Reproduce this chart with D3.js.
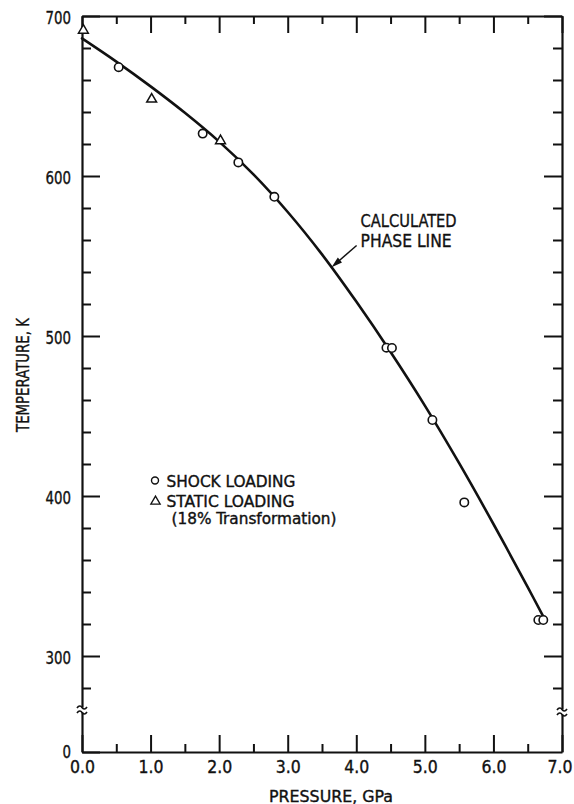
<!DOCTYPE html>
<html>
<head>
<meta charset="utf-8">
<script src="https://cdn.jsdelivr.net/npm/d3@7"></script>
<style>
  html, body { margin: 0; padding: 0; background: #fff; }
  svg { display: block; }
  text { font-family: "Liberation Sans Narrow", "DejaVu Sans Condensed", "Liberation Sans", Arial, sans-serif; fill: #111; stroke: #111; stroke-width: 0.35px; }
</style>
</head>
<body>
<svg id="chart" width="574" height="804"></svg>
<script>
// Axis ticks and labels
const pressureMajor = [0, 1, 2, 3, 4, 5, 6, 7];
const pressureMinor = [0.5, 1.5, 2.5, 3.5, 4.5, 5.5, 6.5];
const pressureLabels = ["0.0", "1.0", "2.0", "3.0", "4.0", "5.0", "6.0", "7.0"];
const tempMajor = [300, 400, 500, 600, 700];
const tempMinor = [280, 320, 340, 360, 380, 420, 440, 460, 480, 520, 540, 560, 580, 620, 640, 660, 680];
const tempLabelValues = [0, 300, 400, 500, 600, 700];

// Calculated phase line (pressure GPa, temperature K)
const phaseP = [0, 0.5, 1.0, 1.5, 2.0, 2.5, 3.0, 3.5, 4.0, 4.5, 5.0, 5.5, 6.0, 6.5, 6.73];
const phaseT = [686, 671.5, 656, 639.5, 621.5, 601, 577.5, 551, 521.5, 490, 456.5, 420.5, 382.5, 343, 324.5];

// Shock loading measurements
const shockP = [0.535, 1.76, 2.28, 2.805, 4.44, 4.52, 5.11, 5.575, 6.655, 6.727];
const shockT = [668, 626.5, 608.5, 587, 492.7, 492.5, 447.5, 396, 322.5, 322.5];

// Static loading measurements (18% transformation)
const staticP = [0.02, 1.016, 2.02];
const staticT = [691, 648, 622];

const svg = d3.select("#chart");
svg.append("rect").attr("width", 574).attr("height", 804).attr("fill", "#fff");

// Temperature axis is broken below 300 K: 0 K sits just under the break
const x = d3.scaleLinear().domain([0, 7]).range([82, 562]);
const y = d3.scaleLinear().domain([0, 265, 700]).range([752, 712, 16]);

const ink = "#111";

function styleAxis(g, width) {
  g.selectAll("path.domain").attr("stroke", ink).attr("stroke-width", width);
  g.selectAll(".tick line").attr("stroke", ink).attr("stroke-width", 2);
}

function fitText(sel, w) {
  sel.attr("textLength", w).attr("lengthAdjust", "spacingAndGlyphs");
}

// Bottom axis
const gB = svg.append("g").attr("transform", "translate(0,752)")
  .call(d3.axisBottom(x).tickValues(pressureMajor).tickSize(-17).tickSizeOuter(0)
    .tickFormat((d, i) => pressureLabels[i]));
styleAxis(gB, 2.2);
gB.selectAll(".tick text").attr("y", 21).attr("dy", 0)
  .attr("x", d => d === 7 ? -2.5 : 0)
  .attr("font-size", 18).attr("fill", ink).each(function () { fitText(d3.select(this), 25); });
const gBm = svg.append("g").attr("transform", "translate(0,752)")
  .call(d3.axisBottom(x).tickValues(pressureMinor).tickSize(-8).tickSizeOuter(0).tickFormat(""));
gBm.select("path.domain").remove();
styleAxis(gBm, 2);

// Top axis
const gT = svg.append("g").attr("transform", "translate(0,16)")
  .call(d3.axisTop(x).tickValues(pressureMajor).tickSize(-17).tickSizeOuter(0).tickFormat(""));
styleAxis(gT, 2);
const gTm = svg.append("g").attr("transform", "translate(0,16)")
  .call(d3.axisTop(x).tickValues(pressureMinor).tickSize(-8).tickSizeOuter(0).tickFormat(""));
gTm.select("path.domain").remove();
styleAxis(gTm, 2);

// Left axis
const gL = svg.append("g").attr("transform", "translate(82,0)")
  .call(d3.axisLeft(y).tickValues(tempLabelValues).tickSize(-18).tickSizeOuter(0).tickPadding(11)
    .tickFormat(d3.format("d")));
styleAxis(gL, 2.2);
gL.selectAll(".tick text").attr("dy", 0).attr("y", d => d === 0 ? 5.5 : 7)
  .attr("font-size", 17.5).attr("fill", ink)
  .each(function (d) { fitText(d3.select(this), d === 0 ? 8.5 : 25.5); });
const gLm = svg.append("g").attr("transform", "translate(82,0)")
  .call(d3.axisLeft(y).tickValues(tempMinor).tickSize(-9).tickSizeOuter(0).tickFormat(""));
gLm.select("path.domain").remove();
styleAxis(gLm, 2);

// Right axis
const gR = svg.append("g").attr("transform", "translate(562,0)")
  .call(d3.axisRight(y).tickValues(tempMajor).tickSize(-18).tickSizeOuter(0).tickFormat(""));
styleAxis(gR, 2.2);
const gRm = svg.append("g").attr("transform", "translate(562,0)")
  .call(d3.axisRight(y).tickValues(tempMinor).tickSize(-9).tickSizeOuter(0).tickFormat(""));
gRm.select("path.domain").remove();
styleAxis(gRm, 2);

// Axis break symbols
function breakMark(cx, cy) {
  const g = svg.append("g");
  g.append("rect").attr("x", cx - 2).attr("y", cy - 2.5).attr("width", 4).attr("height", 5).attr("fill", "#fff");
  [-2.5, 2.5].forEach(dy => {
    const yy = cy + dy;
    g.append("path")
      .attr("d", `M${cx - 5},${yy + 0.5} C${cx - 3},${yy - 2.5} ${cx - 1},${yy - 1.5} ${cx},${yy} S${cx + 3},${yy + 2.5} ${cx + 5},${yy - 0.5}`)
      .attr("fill", "none").attr("stroke", ink).attr("stroke-width", 1.6);
  });
}
breakMark(x(0), y(265) - 2);
breakMark(x(7), y(265));

// Calculated phase line
const phase = phaseP.map((p, i) => [p, phaseT[i]]);
svg.append("path").datum(phase)
  .attr("d", d3.line().x(d => x(d[0])).y(d => y(d[1])).curve(d3.curveCatmullRom.alpha(0.5)))
  .attr("fill", "none").attr("stroke", ink).attr("stroke-width", 2.6).attr("stroke-linecap", "round");

// Shock loading circles
svg.append("g").selectAll("circle").data(shockP.map((p, i) => [p, shockT[i]])).join("circle")
  .attr("cx", d => x(d[0])).attr("cy", d => y(d[1])).attr("r", 4.2)
  .attr("fill", "#fff").attr("stroke", ink).attr("stroke-width", 1.6);

// Static loading triangles
const tri = d3.symbol().type(d3.symbolTriangle).size(42);
svg.append("g").selectAll("path").data(staticP.map((p, i) => [p, staticT[i]])).join("path")
  .attr("d", tri).attr("transform", d => `translate(${x(d[0])},${y(d[1])})`)
  .attr("fill", "#fff").attr("stroke", ink).attr("stroke-width", 1.5);

// Annotation for the calculated line
const tipX = x(3.64), tipY = y(543);
const tailX = tipX + 25, tailY = tipY - 21.7;
const ang = Math.atan2(tipY - tailY, tipX - tailX);
const ux = Math.cos(ang), uy = Math.sin(ang);
svg.append("line").attr("x1", tailX).attr("y1", tailY)
  .attr("x2", tipX - ux * 8).attr("y2", tipY - uy * 8)
  .attr("stroke", ink).attr("stroke-width", 1.5);
const hl = 11, hw = 3.2;
svg.append("path")
  .attr("d", `M${tipX},${tipY} L${tipX - ux * hl - uy * hw},${tipY - uy * hl + ux * hw} L${tipX - ux * hl + uy * hw},${tipY - uy * hl - ux * hw} Z`)
  .attr("fill", ink);
fitText(svg.append("text").attr("x", tailX + 4).attr("y", tailY - 18.5).attr("font-size", 18).text("CALCULATED"), 96);
fitText(svg.append("text").attr("x", tailX + 4).attr("y", tailY + 1).attr("font-size", 18).text("PHASE LINE"), 91);

// Legend
const lg = svg.append("g");
lg.append("circle").attr("cx", 155).attr("cy", 480.5).attr("r", 3.5)
  .attr("fill", "#fff").attr("stroke", ink).attr("stroke-width", 1.4);
lg.append("path").attr("d", d3.symbol().type(d3.symbolTriangle).size(38))
  .attr("transform", "translate(155.5,501.5)")
  .attr("fill", "#fff").attr("stroke", ink).attr("stroke-width", 1.3);
fitText(lg.append("text").attr("x", 166.5).attr("y", 487).attr("font-size", 15.5).text("SHOCK LOADING"), 129);
fitText(lg.append("text").attr("x", 166.5).attr("y", 507).attr("font-size", 15.5).text("STATIC LOADING"), 128);
fitText(lg.append("text").attr("x", 171.5).attr("y", 523.5).attr("font-size", 15).text("(18% Transformation)"), 165);

// Axis titles
fitText(svg.append("text").attr("x", 331).attr("y", 801.5).attr("text-anchor", "middle")
  .attr("font-size", 16.5).text("PRESSURE, GPa"), 124);
fitText(svg.append("text").attr("transform", "translate(28.5,375) rotate(-90)").attr("text-anchor", "middle")
  .attr("font-size", 17).text("TEMPERATURE, K"), 114);
</script>
</body>
</html>
